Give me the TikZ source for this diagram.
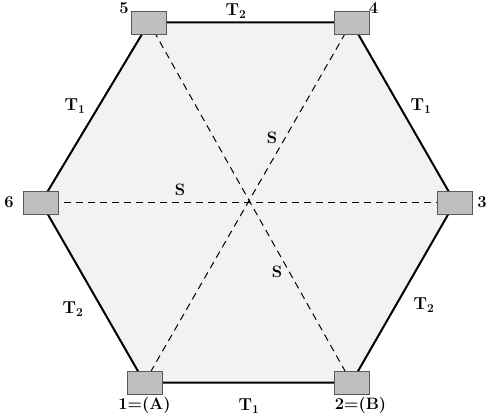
\documentclass[tikz,border=0pt]{standalone}
\usetikzlibrary{positioning,backgrounds}
\definecolor{hexfill}{gray}{0.95}
\definecolor{boxfill}{gray}{0.75}
\tikzset{
  port/.style={draw=black!65,fill=boxfill,line width=0.8pt,minimum width=35pt,minimum height=23pt,inner sep=0pt},
  side/.style={line width=2pt,line join=round},
  diag/.style={dash pattern=on 7pt off 5pt,line width=1pt},
  lbl/.style={font=\fontsize{16.5}{19}\selectfont\bfseries}
}
\begin{document}
\begin{tikzpicture}[x=1pt,y=-1pt]
\useasboundingbox (0,0) rectangle (491,420);
% ports at the corners
\node[port] (v1) at (144.5,382.5) {};
\node[port] (v2) at (351.5,382.5) {};
\node[port] (v3) at (455,202.5) {};
\node[port] (v4) at (351.5,22.5) {};
\node[port] (v5) at (149,22.5) {};
\node[port] (v6) at (41,202.5) {};
\begin{pgfonlayer}{background}
\fill[hexfill] (v1.center) -- (v2.center) -- (v3.center) -- (v4.center) -- (v5.center) -- (v6.center) -- cycle;
\draw[diag] (v1.center) -- (v4.center);
\draw[diag] (v2.center) -- (v5.center);
\draw[diag] (v3.center) -- (v6.center);
\draw[side] (v1.center) -- (v2.center) -- (v3.center) -- (v4.center) -- (v5.center) -- (v6.center) -- cycle;
\end{pgfonlayer}
% port numbers
\node[lbl,below=-1pt of v1] (n1) {1=(A)};
\node[lbl,below=-1pt of v2,xshift=9pt] (n2) {2=(B)};
\node[lbl,right=1pt of v3] (n3) {3};
\node[lbl,anchor=south west] (n4) at ([xshift=-4pt,yshift=-6.5pt]v4.north east) {4};
\node[lbl,anchor=south east] (n5) at ([xshift=1pt,yshift=-6.5pt]v5.north west) {5};
\node[lbl,left=6pt of v6] (n6) {6};
% line labels
\node[lbl] (t12) at (249,406) {$\mathbf{T}_{\mathbf{1}}$};
\node[lbl] (t23) at (424,305) {$\mathbf{T}_{\mathbf{2}}$};
\node[lbl] (t34) at (421,106) {$\mathbf{T}_{\mathbf{1}}$};
\node[lbl] (t45) at (236,11) {$\mathbf{T}_{\mathbf{2}}$};
\node[lbl] (t56) at (75,106) {$\mathbf{T}_{\mathbf{1}}$};
\node[lbl] (t61) at (73,309) {$\mathbf{T}_{\mathbf{2}}$};
\node[lbl] (s14) at (272,138) {S};
\node[lbl] (s36) at (180,190) {S};
\node[lbl] (s25) at (277,272) {S};
\end{tikzpicture}
\end{document}
